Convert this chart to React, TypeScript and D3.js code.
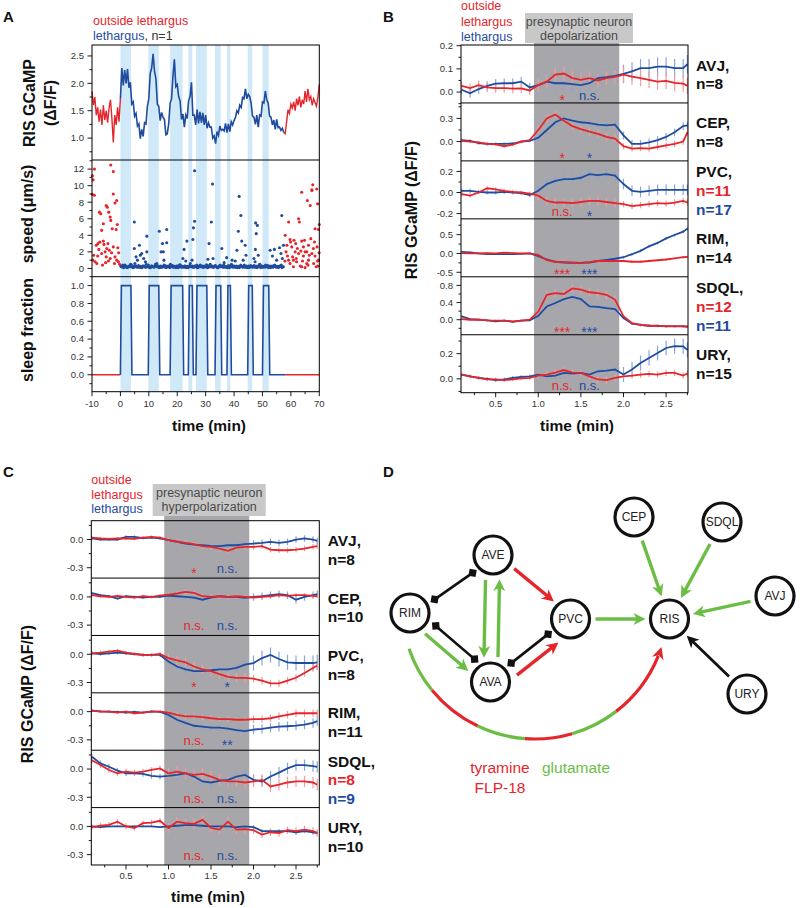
import React, { useEffect, useRef } from "react";
import * as d3 from "d3";

// colours
const RED = "#e4262c";
const BLUE = "#1f4c9d";
const RED_ERR = "#f39c9c";
const BLUE_ERR = "#88a5db";
const GREEN = "#6cbd45";
const SLEEP_BAND = "#d0e9f9";
const STIM_SHADE = "#a7a7ab";
const STIM_HEAD = "#c8c8c8";
const FONT = "'Liberation Sans', Arial, Helvetica, sans-serif";

// ---------------- panel A data ----------------
const aSleepBouts = [
  [0, 3.7], [9.8, 13.5], [17.5, 21.9], [23.9, 25.3], [26.6, 30.4],
  [33.3, 35.3], [37.5, 38.7], [44.8, 46.4], [50, 52.2],
];
const aStep = 0.5; // sampling of the GCaMP trace (min)
const aRedPreStart = -10;
const aRedPre = [1.85, 1.6, 1.75, 1.42, 1.56, 1.3, 1.52, 1.24, 1.6, 1.33, 1.5, 1.28, 1.55, 1.7, 1.36, 0.92, 1.42, 1.24, 1.56, 1.3, 1.72];
const aBlueStart = 0;
const aBlue = [
  1.72, 2.28, 1.96, 2.24, 2.0, 2.26, 1.92, 2.02, 1.62, 1.66,
  1.4, 1.45, 1.22, 1.26, 0.99, 1.16, 1.03, 1.28, 1.26, 1.58,
  1.72, 2.18, 2.28, 2.54, 2.22, 2.08, 1.62, 1.58, 1.32, 1.47,
  1.38, 1.34, 1.06, 1.08, 1.26, 1.64, 1.72, 2.14, 2.44, 1.94,
  1.98, 1.76, 1.68, 1.34, 1.44, 1.2, 1.42, 1.36, 1.68, 1.76,
  2.02, 1.42, 1.42, 1.24, 1.52, 1.27, 1.48, 1.28, 1.46, 1.24,
  1.42, 1.18, 1.28, 1.2, 1.2, 1.0, 1.04, 0.9, 1.12, 1.05,
  1.22, 1.14, 1.16, 1.13, 1.27, 1.1, 1.26, 1.12, 1.3, 1.24,
  1.32, 1.38, 1.5, 1.46, 1.6, 1.56, 1.74, 1.72, 1.9, 1.72,
  1.8, 1.76, 1.64, 1.4, 1.38, 1.25, 1.42, 1.2, 1.42, 1.4,
  1.66, 1.64, 1.86, 1.7, 1.64, 1.4, 1.38, 1.24, 1.33, 1.16,
  1.34, 1.19, 1.2, 1.14, 1.18, 1.1,
];
const aRedPostStart = 57.5;
const aRedPost = [1.1, 1.08, 1.3, 1.52, 1.45, 1.62, 1.55, 1.66, 1.5, 1.72, 1.6, 1.76, 1.56, 1.7, 1.62, 1.86, 1.66, 1.9, 1.7, 1.76, 1.6, 1.72, 1.65, 1.58, 1.75, 1.98];

const aSpeedRedPre = [
  [-9.86, 11.2], [-9.15, 12.0], [-9.6, 10.7], [-9.86, 8.97], [-9.15, 8.85], [-9.7, 1.0], [-8.9, 0.8], [-8.3, 0.6],
  [-7.4, 6.8], [-6.9, 6.6], [-7.2, 3.2], [-7.6, 2.3], [-6.6, 4.6], [-6.0, 5.4], [-6.6, 1.8], [-5.8, 2.9],
  [-5.0, 7.6], [-4.6, 7.4], [-4.8, 2.4], [-5.0, 1.4], [-4.1, 6.8], [-3.6, 6.2], [-3.4, 5.8], [-4.2, 0.9],
  [-3.1, 1.9], [-2.5, 9.0], [-1.9, 7.9], [-1.3, 8.2], [-1.5, 4.7], [-1.1, 5.3], [-1.9, 1.4], [-2.5, 2.6],
  [-0.6, 1.9], [-0.7, 0.8], [-1.3, 1.0], [-3.6, 1.2], [-6.0, 3.3], [-3.4, 12.5], [-2.5, 11.7], [-8.5, 2.8],
  [-7.9, 3.0], [-5.4, 2.0], [-4.4, 3.0], [-2.9, 4.8], [-0.3, 0.5], [-8.0, 1.5], [-6.3, 0.4], [-5.2, 0.7],
  [-3.9, 2.2], [-2.1, 0.6], [-0.9, 2.5], [-9.4, 1.6],
];
const aSpeedRedPost = [
  [58, 4.0], [59.2, 5.6], [59.7, 3.5], [59.9, 3.2], [58.3, 2.0], [59.2, 1.0], [60.3, 2.6], [60.9, 1.0],
  [61.5, 2.0], [61.7, 3.0], [62, 0.8], [62.7, 6.0], [63, 5.6], [63.8, 9.2], [63.8, 3.3], [63.8, 0.2],
  [64.4, 2.6], [65, 2.0], [65, 0.1], [65.6, 0.6], [65.8, 8.2], [66.2, 2.8], [66.2, 1.0], [66.8, 7.6],
  [67, 3.6], [67.4, 9.5], [67.7, 10.1], [68, 0.6], [68.3, 3.2], [68.5, 4.8], [69.1, 9.6], [69.4, 7.8],
  [69.7, 4.7], [69.7, 1.0], [69.95, 1.9], [69.5, 0.3], [70, 5.3], [60.9, 0.2], [63.3, 0.3], [59.7, 0.6],
  [58.8, 1.5], [62.7, 1.8], [64.4, 1.5], [65.6, 2.0], [67.4, 1.8], [68.5, 1.5], [68.9, 0.2], [67.4, 9.4],
  [58.6, 2.8], [61.1, 3.4], [62.3, 2.4], [64.1, 0.9], [66.5, 1.6], [69.2, 2.6], [60.6, 1.4], [63.5, 2.1],
  [57.9, 0.9], [61.9, 1.2], [64.8, 3.4], [66, 0.4], [67.9, 2.4], [69.4, 0.9],
];
const aSpeedBlueHigh = [
  [4.9, 5.6], [4.9, 2.4], [6.7, 2.8], [7.5, 1.8], [9.3, 3.9], [9.3, 2.0], [13.7, 4.5], [14.8, 3.0],
  [16.3, 4.7], [16.3, 3.1], [15.1, 2.0], [22, 1.2], [22.4, 2.3], [23.4, 3.3], [26.1, 5.7], [25.7, 4.9],
  [25.5, 3.5], [25.2, 1.0], [31.2, 3.0], [32, 5.6], [32.4, 10.2], [26.1, 11.8], [32.6, 1.2], [35.7, 2.4],
  [37.4, 1.3], [40.4, 0.9], [41, 2.2], [41.8, 8.7], [41.5, 4.5], [42.4, 6.4], [42.7, 3.3], [43.9, 2.8],
  [44.2, 1.6], [47.4, 0.8], [47.6, 5.5], [48.2, 5.2], [47.8, 4.2], [47.5, 2.3], [48.5, 1.6], [52.7, 2.2],
  [54.2, 2.3], [56, 2.5], [56.8, 6.4], [57.4, 2.8], [8.2, 1.2], [8.8, 0.8], [15.3, 1.0], [23, 0.9],
  [30.8, 1.1], [36.5, 0.7], [39.3, 1.0], [43.2, 1.0], [47, 1.2], [53.5, 1.5], [55, 1.0], [56.5, 1.8],
  [57, 1.2], [5.5, 1.4], [6, 1.0], [7, 1.6], [14.3, 2.0], [12.8, 0.6],
];
const aSpeedBaseStartA = 0.1;
const aSpeedBaseA = [
  0.3, 0.2, 0.1, 0.4, 0.2, 0.15, 0.3, 0.5, 0.2, 0.1, 0.6, 0.3, 0.2, 0.15, 0.25, 0.1, 0.3, 0.2, 0.5, 0.2,
  0.15, 0.1, 0.3, 0.2, 0.25, 0.4, 0.2, 0.1, 0.3, 0.15, 0.2, 0.35, 0.1, 0.2, 0.3, 0.5, 0.2, 0.15, 0.25, 0.1,
  0.3, 0.2, 0.4, 0.15, 0.2, 0.3, 0.1, 0.25, 0.2, 0.6, 0.2, 0.15, 0.3, 0.2, 0.1, 0.25, 0.4, 0.2, 0.15, 0.3,
  0.2, 0.1, 0.3, 0.5, 0.2, 0.15, 0.25, 0.3, 0.1, 0.2, 0.4, 0.25, 0.15, 0.3, 0.2, 0.1, 0.35, 0.2, 0.5, 0.15,
  0.3, 0.2, 0.1, 0.25, 0.2, 0.3, 0.15, 0.4, 0.2, 0.1, 0.3, 0.2, 0.25, 0.15, 0.35, 0.2, 0.1, 0.3, 0.5, 0.2,
  0.15, 0.25, 0.4, 0.2, 0.1, 0.3, 0.2, 0.15, 0.35, 0.25, 0.2, 0.1, 0.3, 0.4, 0.2,
];
const aSpeedBaseStartB = 0.35;
const aSpeedBaseB = [
  0.2, 0.4, 0.15, 0.3, 0.1, 0.25, 0.2, 0.45, 0.1, 0.3, 0.2, 0.15, 0.35, 0.2, 0.1, 0.3, 0.25, 0.15, 0.2, 0.4,
  0.1, 0.3, 0.2, 0.15, 0.5, 0.2, 0.3, 0.1, 0.25, 0.2, 0.4, 0.15, 0.3, 0.2, 0.1, 0.25, 0.35, 0.2, 0.15, 0.3,
  0.1, 0.45, 0.2, 0.25, 0.15, 0.3, 0.2, 0.1, 0.35, 0.2, 0.3, 0.15, 0.2, 0.4, 0.1, 0.25, 0.2, 0.3, 0.15, 0.2,
  0.45, 0.1, 0.25, 0.2, 0.3, 0.15, 0.35, 0.2, 0.1, 0.3, 0.2, 0.25, 0.4, 0.15, 0.2, 0.3, 0.1, 0.2, 0.35, 0.25,
  0.15, 0.3, 0.2, 0.1, 0.4, 0.2, 0.25, 0.15, 0.3, 0.2, 0.1, 0.35, 0.2, 0.3, 0.15, 0.25, 0.2, 0.45, 0.1, 0.3,
  0.2, 0.15, 0.25, 0.35, 0.2, 0.1, 0.3, 0.2, 0.4, 0.15, 0.25, 0.2, 0.3, 0.1, 0.2,
];
const aLethargusEnd = 58;

const aXTicks = [-10, 0, 10, 20, 30, 40, 50, 60, 70];
const aXMinor = [-5, 5, 15, 25, 35, 45, 55, 65];
const aFTicks = [1.0, 1.5, 2.0, 2.5];
const aFMinor = [0.75, 1.25, 1.75, 2.25];
const aSTicks = [0, 2, 4, 6, 8, 10, 12];
const aSMinor = [-1, 1, 3, 5, 7, 9, 11, 13];
const aQTicks = [0.0, 0.2, 0.4, 0.6, 0.8, 1.0];
const aQMinor = [-0.1, 0.1, 0.3, 0.5, 0.7, 0.9];

// ---------------- panels B and C data ----------------
const stimWindow = [0.95, 1.95];
const timeBC = [0.1, 0.2, 0.3, 0.4, 0.5, 0.6, 0.7, 0.8, 0.9, 1.0, 1.1, 1.2, 1.3, 1.4, 1.5, 1.6, 1.7, 1.8, 1.9, 2.0, 2.1, 2.2, 2.3, 2.4, 2.5, 2.6, 2.7, 2.75];
const bcXTicks = [0.5, 1.0, 1.5, 2.0, 2.5];
const bcXMinor = [0.25, 0.75, 1.25, 1.75, 2.25, 2.75];

// B: depolarization
const bAvjRed = [0.027, 0.017, 0.03, 0.02, 0.017, 0.017, 0.015, 0.016, 0.007, 0.03, 0.045, 0.075, 0.08, 0.06, 0.053, 0.06, 0.05, 0.06, 0.065, 0.075, 0.067, 0.06, 0.053, 0.045, 0.048, 0.04, 0.036, 0.027];
const bAvjBlue = [0.01, -0.005, 0.013, 0.027, 0.036, 0.038, 0.038, 0.045, 0.02, 0.03, 0.045, 0.038, 0.038, 0.034, 0.03, 0.038, 0.06, 0.064, 0.07, 0.078, 0.089, 0.103, 0.103, 0.11, 0.11, 0.103, 0.103, 0.12];
const bCepRed = [0.01, 0.0, -0.01, -0.03, -0.035, -0.06, -0.04, 0.0, 0.02, 0.15, 0.3, 0.35, 0.27, 0.2, 0.16, 0.13, 0.1, 0.06, 0.04, -0.06, -0.09, -0.085, -0.09, -0.07, -0.05, -0.03, 0.0, 0.12];
const bCepBlue = [0.02, 0.01, -0.02, -0.03, -0.03, -0.03, -0.025, 0.0, 0.01, 0.05, 0.15, 0.25, 0.3, 0.27, 0.25, 0.24, 0.22, 0.21, 0.22, 0.08, -0.03, -0.03, -0.01, 0.02, 0.06, 0.12, 0.2, 0.21];
const bPvcRed = [-0.016, -0.03, 0.0, 0.04, 0.03, 0.016, 0.006, 0.0, -0.01, -0.03, -0.08, -0.095, -0.095, -0.1, -0.09, -0.08, -0.08, -0.09, -0.1, -0.11, -0.13, -0.12, -0.11, -0.1, -0.105, -0.095, -0.08, -0.095];
const bPvcBlue = [0.016, 0.016, 0.006, 0.0, 0.0, 0.006, 0.0, -0.006, -0.025, 0.016, 0.08, 0.11, 0.127, 0.127, 0.14, 0.175, 0.165, 0.175, 0.16, 0.08, 0.016, 0.006, 0.016, 0.025, 0.025, 0.025, 0.025, 0.025];
const bRimRed = [0.01, 0.0, 0.0, 0.01, 0.0, 0.02, 0.01, 0.0, 0.0, -0.04, -0.18, -0.22, -0.23, -0.24, -0.25, -0.23, -0.2, -0.2, -0.2, -0.2, -0.22, -0.22, -0.2, -0.18, -0.16, -0.13, -0.1, -0.09];
const bRimBlue = [0.045, 0.03, 0.0, -0.02, -0.02, -0.02, -0.02, -0.01, 0.0, -0.07, -0.16, -0.22, -0.24, -0.25, -0.25, -0.24, -0.2, -0.17, -0.14, -0.1, -0.02, 0.07, 0.19, 0.28, 0.4, 0.49, 0.58, 0.66];
const bSdqlRed = [0.015, 0.0, 0.0, -0.015, -0.02, -0.02, -0.04, -0.02, 0.0, 0.19, 0.58, 0.62, 0.6, 0.73, 0.7, 0.64, 0.62, 0.58, 0.47, 0.08, -0.08, -0.12, -0.14, -0.15, -0.15, -0.15, -0.15, -0.17];
const bSdqlBlue = [0.08, 0.015, 0.0, -0.015, -0.04, -0.02, -0.05, -0.02, -0.015, 0.09, 0.31, 0.39, 0.48, 0.53, 0.48, 0.31, 0.3, 0.27, 0.25, 0.04, -0.09, -0.12, -0.14, -0.14, -0.155, -0.155, -0.155, -0.155];
const bUryRed = [0.034, 0.02, 0.008, -0.005, -0.005, -0.01, -0.005, 0.003, 0.008, 0.026, 0.034, 0.05, 0.07, 0.05, 0.047, 0.02, -0.005, -0.01, 0.008, 0.02, 0.026, 0.034, 0.04, 0.034, 0.047, 0.047, 0.026, 0.042];
const bUryBlue = [0.034, 0.02, 0.008, 0.0, -0.01, -0.005, 0.008, 0.016, 0.02, 0.034, 0.02, 0.026, 0.047, 0.042, 0.047, 0.034, 0.06, 0.066, 0.074, 0.034, 0.074, 0.126, 0.166, 0.205, 0.245, 0.26, 0.258, 0.23];
// SEM before / during / after stimulation
const bErrRed = [[0.02, 0.03, 0.035], [0.02, 0.05, 0.04], [0.02, 0.04, 0.03], [0.02, 0.03, 0.03], [0.02, 0.1, 0.03], [0.015, 0.03, 0.025]];
const bErrBlue = [[0.02, 0.035, 0.04], [0.02, 0.05, 0.05], [0.02, 0.05, 0.05], [0.02, 0.03, 0.04], [0.02, 0.08, 0.03], [0.015, 0.03, 0.06]];
const bNames = ["AVJ", "CEP", "PVC", "RIM", "SDQL", "URY"];
const bCounts = [["8"], ["8"], ["11", "17"], ["14"], ["12", "11"], ["15"]];
const bSig = [["*", "n.s."], ["*", "*"], ["n.s.", "*"], ["***", "***"], ["***", "***"], ["n.s.", "n.s."]];
const bDomains = [[-0.047, 0.203], [-0.25, 0.5], [-0.25, 0.3], [-0.62, 0.92], [-0.35, 1.0], [-0.11, 0.35]];
const bYTicks = [[0.0, 0.1, 0.2], [0.0, 0.3], [-0.2, 0.0, 0.2], [-0.5, 0.0, 0.5], [0.0, 0.4, 0.8], [0.0, 0.2]];
const bYMinor = [[-0.05, 0.05, 0.15], [-0.15, 0.15, 0.45], [-0.1, 0.1], [-0.25, 0.25, 0.75], [-0.2, 0.2, 0.6], [-0.1, 0.1, 0.3]];

// C: hyperpolarization
const cAvjRed = [0.021, 0.011, 0.007, 0.011, 0.011, 0.007, 0.021, 0.029, 0.021, -0.007, -0.021, -0.036, -0.05, -0.071, -0.079, -0.096, -0.121, -0.086, -0.079, -0.079, -0.071, -0.107, -0.114, -0.114, -0.107, -0.096, -0.079, -0.071];
const cAvjBlue = [0.011, 0.0, 0.0, 0.0, 0.029, 0.029, 0.014, 0.021, 0.011, -0.007, -0.025, -0.043, -0.054, -0.061, -0.068, -0.071, -0.061, -0.061, -0.05, -0.043, -0.036, -0.025, -0.036, -0.025, 0.0, 0.011, 0.0, -0.014];
const cCepRed = [0.018, 0.007, 0.0, 0.011, 0.0, -0.007, 0.007, 0.0, 0.014, 0.025, 0.036, 0.054, 0.043, 0.007, 0.0, 0.007, 0.0, 0.007, 0.0, -0.007, 0.0, 0.007, 0.018, 0.011, 0.018, 0.018, 0.011, 0.007];
const cCepBlue = [0.04, 0.018, 0.007, -0.018, 0.007, 0.0, -0.007, 0.0, 0.0, 0.014, 0.007, 0.0, -0.007, -0.03, -0.007, 0.007, 0.0, 0.0, -0.011, 0.0, 0.007, 0.018, 0.029, 0.018, -0.03, 0.0, 0.018, 0.029];
const cPvcRed = [0.01, 0.017, 0.028, 0.038, 0.017, 0.003, -0.007, -0.007, 0.003, -0.04, -0.065, -0.086, -0.13, -0.16, -0.18, -0.21, -0.24, -0.25, -0.25, -0.26, -0.28, -0.31, -0.31, -0.28, -0.25, -0.2, -0.145, -0.12];
const cPvcBlue = [0.01, 0.003, 0.01, 0.017, 0.01, 0.003, -0.007, -0.007, -0.007, -0.076, -0.13, -0.16, -0.18, -0.18, -0.17, -0.16, -0.16, -0.145, -0.11, -0.093, -0.04, -0.007, -0.05, -0.086, -0.093, -0.093, -0.093, -0.086];
const cRimRed = [0.01, 0.0, 0.0, -0.01, 0.0, -0.017, -0.01, 0.0, 0.0, -0.01, -0.034, -0.05, -0.05, -0.058, -0.07, -0.08, -0.08, -0.086, -0.086, -0.08, -0.08, -0.07, -0.05, -0.034, -0.017, -0.017, -0.017, -0.017];
const cRimBlue = [0.01, 0.003, 0.0, -0.003, -0.01, -0.003, -0.01, 0.003, -0.003, -0.034, -0.086, -0.12, -0.15, -0.16, -0.17, -0.17, -0.18, -0.197, -0.207, -0.19, -0.183, -0.17, -0.16, -0.155, -0.148, -0.138, -0.12, -0.1];
const cSdqlRed = [0.094, 0.042, -0.01, -0.045, -0.028, -0.038, -0.028, -0.01, 0.007, -0.045, -0.028, -0.045, -0.063, -0.052, -0.08, -0.115, -0.132, -0.132, -0.143, -0.132, -0.115, -0.185, -0.167, -0.143, -0.132, -0.132, -0.143, -0.167];
const cSdqlBlue = [0.13, 0.06, 0.024, -0.017, -0.045, -0.045, -0.052, -0.073, -0.08, -0.073, -0.063, -0.045, -0.08, -0.132, -0.143, -0.125, -0.115, -0.08, -0.063, -0.115, -0.132, -0.08, -0.038, 0.007, 0.042, 0.042, 0.031, 0.024];
const cUryRed = [-0.007, 0.007, 0.017, 0.05, 0.0, -0.017, 0.034, 0.04, 0.06, -0.017, 0.05, 0.034, 0.028, 0.07, -0.017, -0.034, 0.05, -0.034, -0.028, -0.04, -0.086, -0.062, -0.07, -0.04, -0.05, -0.034, -0.05, -0.07];
const cUryBlue = [0.0, -0.007, 0.0, 0.0, 0.0, 0.0, 0.0, 0.0, -0.007, 0.0, 0.007, 0.014, 0.014, 0.007, 0.0, 0.0, 0.0, -0.007, 0.0, -0.007, -0.05, -0.05, -0.05, -0.05, -0.062, -0.05, -0.062, -0.07];
const cErrRed = [[0.015, 0.03, 0.03], [0.015, 0.03, 0.02], [0.02, 0.05, 0.04], [0.015, 0.03, 0.04], [0.03, 0.06, 0.06], [0.03, 0.05, 0.04]];
const cErrBlue = [[0.015, 0.03, 0.035], [0.015, 0.03, 0.04], [0.02, 0.05, 0.08], [0.015, 0.03, 0.05], [0.03, 0.06, 0.06], [0.01, 0.015, 0.02]];
const cNames = ["AVJ", "CEP", "PVC", "RIM", "SDQL", "URY"];
const cCounts = [["8"], ["10"], ["8"], ["11"], ["8", "9"], ["10"]];
const cSig = [["*", "n.s."], ["n.s.", "n.s."], ["*", "*"], ["n.s.", "**"], ["n.s.", "n.s."], ["n.s.", "n.s."]];
const cDomain = [-0.41, 0.2];
const cYTicks = [-0.3, 0.0];
const cYMinor = [-0.15, 0.15];

// ---------------- panel D data ----------------
const dNodes = ["CEP", "SDQL", "AVE", "AVJ", "RIM", "PVC", "RIS", "AVA", "URY"];
// [source, target, kind]  glu = glutamate, tyr = tyramine / FLP-18, gap = gap junction, syn = other synapse
const dEdges = [
  ["RIM", "AVE", "gap"], ["RIM", "AVA", "gap"], ["AVA", "PVC", "gap"],
  ["RIM", "AVA", "glu"], ["AVE", "AVA", "glu"], ["AVA", "AVE", "glu"],
  ["AVE", "PVC", "tyr"], ["AVA", "PVC", "tyr"],
  ["PVC", "RIS", "glu"], ["CEP", "RIS", "glu"], ["SDQL", "RIS", "glu"], ["AVJ", "RIS", "glu"],
  ["URY", "RIS", "syn"],
];
// RIM -> RIS long-range connection, alternating transmitter colours
const dArcKinds = ["glu", "tyr", "glu", "tyr", "glu", "tyr"];

// layout of the diagram (pixels)
const dPos: Record<string, [number, number]> = {
  CEP: [634, 517], SDQL: [722, 522], AVE: [493, 555], AVJ: [775, 596], RIM: [410, 613],
  PVC: [570.5, 619], RIS: [669.5, 619], AVA: [490.5, 682], URY: [747, 694],
};
const dOffset: Record<string, number> = {
  "RIM-AVE-gap": 3, "RIM-AVA-gap": -7, "RIM-AVA-glu": 6, "AVE-AVA-glu": 7, "AVA-AVE-glu": 7,
  "AVA-PVC-gap": -2, "AVA-PVC-tyr": 11, "AVE-PVC-tyr": -3,
};
const dArc = { cx: 535, cy: 606, r: 133, angles: [161.3, 140.7, 115.5, 94.4, 73.8, 52.4, 18] };

// ---------------- helpers ----------------
type Sel = any;

function yAxis(g: Sel, y: any, x0: number, major: number[], minor: number[], fmt: (v: number) => string) {
  g.append("g").selectAll("line").data(major).join("line")
    .attr("x1", x0 - 4.5).attr("x2", x0).attr("y1", (d: number) => y(d)).attr("y2", (d: number) => y(d))
    .attr("stroke", "#000").attr("stroke-width", 0.9);
  g.append("g").selectAll("line").data(minor).join("line")
    .attr("x1", x0 - 2.5).attr("x2", x0).attr("y1", (d: number) => y(d)).attr("y2", (d: number) => y(d))
    .attr("stroke", "#000").attr("stroke-width", 0.9);
  g.append("g").selectAll("text").data(major).join("text")
    .attr("x", x0 - 8).attr("y", (d: number) => y(d) + 3.3)
    .attr("text-anchor", "end").attr("font-size", 9.5).attr("fill", "#333")
    .text((d: number) => fmt(d));
}

function xAxis(g: Sel, x: any, y0: number, major: number[], minor: number[], fmt: (v: number) => string, labelY: number) {
  g.append("g").selectAll("line").data(major).join("line")
    .attr("x1", (d: number) => x(d)).attr("x2", (d: number) => x(d)).attr("y1", y0).attr("y2", y0 + 4.5)
    .attr("stroke", "#000").attr("stroke-width", 0.9);
  g.append("g").selectAll("line").data(minor).join("line")
    .attr("x1", (d: number) => x(d)).attr("x2", (d: number) => x(d)).attr("y1", y0).attr("y2", y0 + 2.5)
    .attr("stroke", "#000").attr("stroke-width", 0.9);
  g.append("g").selectAll("text").data(major).join("text")
    .attr("x", (d: number) => x(d)).attr("y", labelY)
    .attr("text-anchor", "middle").attr("font-size", 9.5).attr("fill", "#333")
    .text((d: number) => fmt(d));
}

function vLabel(g: Sel, x: number, y: number, text: string, size = 16) {
  g.append("text").attr("transform", `translate(${x},${y}) rotate(-90)`)
    .attr("text-anchor", "middle").attr("font-size", size).attr("font-weight", "bold").attr("fill", "#111")
    .text(text);
}

function drawPanelA(svg: Sel) {
  const x = d3.scaleLinear().domain([-10, 70]).range([92, 319.3]);
  const yF = d3.scaleLinear().domain([0.6, 2.7]).range([160, 45]);
  const yS = d3.scaleLinear().domain([-1, 13.1]).range([276.7, 160]);
  const yQ = d3.scaleLinear().domain([-0.19, 1.1]).range([391.7, 276.7]);
  const g = svg.append("g");

  g.selectAll("rect.band").data(aSleepBouts).join("rect").attr("class", "band")
    .attr("x", (d: number[]) => x(d[0])).attr("width", (d: number[]) => x(d[1]) - x(d[0]))
    .attr("y", 45).attr("height", 391.7 - 45).attr("fill", SLEEP_BAND);

  const pts = (start: number, vals: number[]) => vals.map((v, i) => [start + i * aStep, v] as [number, number]);
  const lineF = d3.line<[number, number]>().x((d) => x(d[0])).y((d) => yF(d[1]));
  g.append("path").attr("d", lineF(pts(aRedPreStart, aRedPre))).attr("fill", "none").attr("stroke", RED).attr("stroke-width", 1.4);
  g.append("path").attr("d", lineF(pts(aRedPostStart, aRedPost))).attr("fill", "none").attr("stroke", RED).attr("stroke-width", 1.4);
  g.append("path").attr("d", lineF(pts(aBlueStart, aBlue))).attr("fill", "none").attr("stroke", BLUE).attr("stroke-width", 1.6);

  // speed scatter
  const basePts = [
    ...aSpeedBaseA.map((v, i) => [aSpeedBaseStartA + i * aStep, v]),
    ...aSpeedBaseB.map((v, i) => [aSpeedBaseStartB + i * aStep, v]),
  ];
  const dots = (data: number[][], color: string) =>
    g.append("g").selectAll("circle").data(data).join("circle")
      .attr("cx", (d: number[]) => x(d[0])).attr("cy", (d: number[]) => yS(d[1]))
      .attr("r", 1.55).attr("fill", color);
  dots([...basePts, ...aSpeedBlueHigh], BLUE);
  dots(aSpeedRedPre, RED);
  dots(aSpeedRedPost, RED);

  // sleep fraction
  const sleepPts: [number, number][] = [[0, 0]];
  aSleepBouts.forEach(([s, e]) => {
    sleepPts.push([s, 0], [s + 0.35, 1], [e, 1], [e + 0.35, 0]);
  });
  sleepPts.push([aLethargusEnd, 0]);
  const lineQ = d3.line<[number, number]>().x((d) => x(d[0])).y((d) => yQ(d[1]));
  g.append("path").attr("d", lineQ([[-10, 0], [0, 0]])).attr("stroke", RED).attr("stroke-width", 1.5).attr("fill", "none");
  g.append("path").attr("d", lineQ([[aLethargusEnd, 0], [70, 0]])).attr("stroke", RED).attr("stroke-width", 1.5).attr("fill", "none");
  g.append("path").attr("d", lineQ(sleepPts)).attr("stroke", BLUE).attr("stroke-width", 1.6).attr("fill", "none");

  // frame
  g.append("rect").attr("x", 92).attr("y", 45).attr("width", 227.3).attr("height", 346.7)
    .attr("fill", "none").attr("stroke", "#000").attr("stroke-width", 1);
  [160, 276.7].forEach((yy) =>
    g.append("line").attr("x1", 92).attr("x2", 319.3).attr("y1", yy).attr("y2", yy).attr("stroke", "#000").attr("stroke-width", 1));

  yAxis(g, yF, 92, aFTicks, aFMinor, (v) => v.toFixed(1));
  yAxis(g, yS, 92, aSTicks, aSMinor, (v) => String(v));
  yAxis(g, yQ, 92, aQTicks, aQMinor, (v) => v.toFixed(1));
  xAxis(g, x, 391.7, aXTicks, aXMinor, (v) => String(v), 407);

  g.append("text").attr("x", 209).attr("y", 431).attr("text-anchor", "middle")
    .attr("font-size", 15.5).attr("font-weight", "bold").attr("fill", "#111").text("time (min)");
  vLabel(g, 35, 103, "RIS GCaMP");
  vLabel(g, 55.5, 103, "(\u0394F/F)");
  vLabel(g, 33, 214, "speed (\u03bcm/s)");
  vLabel(g, 33, 330, "sleep fraction");

  g.append("text").attr("x", 93).attr("y", 25).attr("font-size", 12.5).attr("fill", RED).text("outside lethargus");
  const t2 = g.append("text").attr("x", 93).attr("y", 39.5).attr("font-size", 12.5);
  t2.append("tspan").attr("fill", BLUE).text("lethargus");
  t2.append("tspan").attr("fill", "#333").text(", n=1");
}

interface StackOpt {
  id: string; x0: number; x1: number; top: number; ph: number; tDomain: number[];
  shadeTop: number; labelX: number; sigDy: number;
  names: string[]; counts: string[][]; sigs: string[][];
  series: { red: number[]; blue: number[]; redErr: number[]; blueErr: number[] }[];
  domains: number[][]; yTicks: number[][]; yMinor: number[][];
  xLabelY: number; titleX: number; titleY: number;
  header: { x: number; y: number; w: number; h: number; lines: string[]; b: number[] };
  legendX: number; legendY: number[]; yTitleX: number; yTitleY: number;
  sigT: number[];
}

function drawStack(svg: Sel, o: StackOpt) {
  const x = d3.scaleLinear().domain(o.tDomain).range([o.x0, o.x1]);
  const n = o.names.length;
  const bottom = o.top + o.ph * n;
  const g = svg.append("g");

  // stimulation period
  g.append("rect").attr("x", x(stimWindow[0])).attr("y", o.shadeTop)
    .attr("width", x(stimWindow[1]) - x(stimWindow[0])).attr("height", bottom - o.shadeTop).attr("fill", STIM_SHADE);
  g.append("rect").attr("x", o.header.x).attr("y", o.header.y).attr("width", o.header.w).attr("height", o.header.h).attr("fill", STIM_HEAD);
  o.header.lines.forEach((s, i) =>
    g.append("text").attr("x", o.header.x + o.header.w / 2).attr("y", o.header.b[i]).attr("text-anchor", "middle")
      .attr("font-size", 12.5).attr("fill", "#4a4a4a").text(s));

  const errAt = (t: number, e: number[]) => (t < stimWindow[0] ? e[0] : t <= stimWindow[1] ? e[1] : e[2]);

  for (let i = 0; i < n; i++) {
    const p0 = o.top + i * o.ph;
    const p1 = p0 + o.ph;
    const dom = o.domains[i];
    const y = d3.scaleLinear().domain(dom).range([p1, p0]);
    const clipId = `${o.id}-clip-${i}`;
    g.append("clipPath").attr("id", clipId).append("rect")
      .attr("x", o.x0).attr("y", p0).attr("width", o.x1 - o.x0).attr("height", o.ph);
    const pg = g.append("g").attr("clip-path", `url(#${clipId})`);
    const s = o.series[i];
    const drawErr = (vals: number[], err: number[], color: string) =>
      pg.append("g").selectAll("line").data(vals).join("line")
        .attr("x1", (_: number, j: number) => x(timeBC[j])).attr("x2", (_: number, j: number) => x(timeBC[j]))
        .attr("y1", (d: number, j: number) => y(d - errAt(timeBC[j], err)))
        .attr("y2", (d: number, j: number) => y(d + errAt(timeBC[j], err)))
        .attr("stroke", color).attr("stroke-width", 1.2);
    drawErr(s.blue, s.blueErr, BLUE_ERR);
    drawErr(s.red, s.redErr, RED_ERR);
    const line = d3.line<number>().x((_, j) => x(timeBC[j])).y((d) => y(d));
    pg.append("path").attr("d", line(s.blue)).attr("fill", "none").attr("stroke", BLUE).attr("stroke-width", 1.8);
    pg.append("path").attr("d", line(s.red)).attr("fill", "none").attr("stroke", RED).attr("stroke-width", 1.8);

    yAxis(g, y, o.x0, o.yTicks[i], o.yMinor[i], (v) => v.toFixed(1));

    // significance
    const sy = p1 + o.sigDy;
    o.sigs[i].forEach((txt, k) => {
      const star = txt.indexOf("*") >= 0;
      g.append("text").attr("x", x(o.sigT[k])).attr("y", star ? sy + 4.5 : sy).attr("text-anchor", "middle")
        .attr("font-size", star ? 14 : 13).attr("fill", k === 0 ? RED : BLUE).text(txt);
    });

    // neuron name and n
    const lines: [string, string][] = [[o.names[i] + ",", "#111"]];
    if (o.counts[i].length === 1) lines.push(["n=" + o.counts[i][0], "#111"]);
    else { lines.push(["n=" + o.counts[i][0], RED]); lines.push(["n=" + o.counts[i][1], BLUE]); }
    const first = lines.length === 2 ? 25.5 : 16.5;
    lines.forEach(([txt, col], k) =>
      g.append("text").attr("x", o.labelX).attr("y", p0 + first + k * 18.6)
        .attr("font-size", 15.5).attr("font-weight", "bold").attr("fill", col).text(txt));
  }

  g.append("rect").attr("x", o.x0).attr("y", o.top).attr("width", o.x1 - o.x0).attr("height", bottom - o.top)
    .attr("fill", "none").attr("stroke", "#000").attr("stroke-width", 1);
  for (let i = 1; i < n; i++) {
    const yy = o.top + i * o.ph;
    g.append("line").attr("x1", o.x0).attr("x2", o.x1).attr("y1", yy).attr("y2", yy).attr("stroke", "#000").attr("stroke-width", 1);
  }
  xAxis(g, x, bottom, bcXTicks, bcXMinor, (v) => v.toFixed(1), o.xLabelY);
  g.append("text").attr("x", o.titleX).attr("y", o.titleY).attr("text-anchor", "middle")
    .attr("font-size", 15.5).attr("font-weight", "bold").attr("fill", "#111").text("time (min)");
  vLabel(g, o.yTitleX, o.yTitleY, "RIS GCaMP (\u0394F/F)");

  const legend: [string, string][] = [["outside", RED], ["lethargus", RED], ["lethargus", BLUE]];
  legend.forEach(([txt, col], k) =>
    g.append("text").attr("x", o.legendX).attr("y", o.legendY[k]).attr("font-size", 12.5).attr("fill", col).text(txt));
}

function drawPanelD(svg: Sel) {
  const g = svg.append("g");
  const R = 19;
  const colorOf: Record<string, string> = { glu: GREEN, tyr: RED, gap: "#111", syn: "#111" };

  const arrowHead = (ex: number, ey: number, ux: number, uy: number, col: string) => {
    const nx = -uy, ny = ux, L = 12, W = 6;
    const p = [
      [ex, ey],
      [ex - ux * L + nx * W, ey - uy * L + ny * W],
      [ex - ux * L * 0.72, ey - uy * L * 0.72],
      [ex - ux * L - nx * W, ey - uy * L - ny * W],
    ];
    g.append("path").attr("d", d3.line()(p as [number, number][]) + "Z").attr("fill", col);
  };

  // RIM -> RIS arc
  const rad = (a: number) => (a * Math.PI) / 180;
  dArcKinds.forEach((kind, i) => {
    const a0 = dArc.angles[i], a1 = i === dArcKinds.length - 1 ? dArc.angles[i + 1] + 4 : dArc.angles[i + 1];
    const p = d3.path();
    p.moveTo(dArc.cx + dArc.r * Math.cos(rad(a0)), dArc.cy + dArc.r * Math.sin(rad(a0)));
    p.arc(dArc.cx, dArc.cy, dArc.r, rad(a0), rad(a1), true);
    g.append("path").attr("d", p.toString()).attr("fill", "none").attr("stroke", colorOf[kind]).attr("stroke-width", 3.2);
  });
  const aEnd = rad(dArc.angles[dArc.angles.length - 1]);
  arrowHead(dArc.cx + dArc.r * Math.cos(aEnd), dArc.cy + dArc.r * Math.sin(aEnd), Math.sin(aEnd), -Math.cos(aEnd), colorOf[dArcKinds[dArcKinds.length - 1]]);

  dEdges.forEach(([a, b, kind]) => {
    const [ax, ay] = dPos[a];
    const [bx, by] = dPos[b];
    const L = Math.hypot(bx - ax, by - ay);
    const ux = (bx - ax) / L, uy = (by - ay) / L, nx = -uy, ny = ux;
    const off = dOffset[`${a}-${b}-${kind}`] || 0;
    const col = colorOf[kind];
    if (kind === "gap") {
      const g0 = R + 9, g1 = R + 8;
      const sx = ax + ux * g0 + nx * off, sy = ay + uy * g0 + ny * off;
      const ex = bx - ux * g1 + nx * off, ey = by - uy * g1 + ny * off;
      g.append("line").attr("x1", sx).attr("y1", sy).attr("x2", ex).attr("y2", ey).attr("stroke", col).attr("stroke-width", 2.6);
      const ang = (Math.atan2(uy, ux) * 180) / Math.PI;
      [[sx, sy], [ex, ey]].forEach(([px, py]) =>
        g.append("rect").attr("x", -3.6).attr("y", -3.6).attr("width", 7.2).attr("height", 7.2).attr("fill", col)
          .attr("transform", `translate(${px},${py}) rotate(${ang + 45})`));
    } else {
      const g0 = R + 6, g1 = R + 5;
      const sx = ax + ux * g0 + nx * off, sy = ay + uy * g0 + ny * off;
      const ex = bx - ux * g1 + nx * off, ey = by - uy * g1 + ny * off;
      g.append("line").attr("x1", sx).attr("y1", sy).attr("x2", ex - ux * 8).attr("y2", ey - uy * 8)
        .attr("stroke", col).attr("stroke-width", kind === "syn" ? 2.8 : 3.4);
      arrowHead(ex, ey, ux, uy, col);
    }
  });

  g.append("g").selectAll("circle").data(dNodes).join("circle")
    .attr("cx", (d: string) => dPos[d][0]).attr("cy", (d: string) => dPos[d][1]).attr("r", R)
    .attr("fill", "#fff").attr("stroke", "#111").attr("stroke-width", 3.2);
  g.append("g").selectAll("text").data(dNodes).join("text")
    .attr("x", (d: string) => dPos[d][0]).attr("y", (d: string) => dPos[d][1] + 4.3)
    .attr("text-anchor", "middle").attr("font-size", 12).attr("fill", "#222").text((d: string) => d);

  g.append("text").attr("x", 500).attr("y", 773).attr("text-anchor", "middle").attr("font-size", 15.5).attr("fill", RED).text("tyramine");
  g.append("text").attr("x", 500).attr("y", 792.5).attr("text-anchor", "middle").attr("font-size", 15.5).attr("fill", RED).text("FLP-18");
  g.append("text").attr("x", 576).attr("y", 773).attr("text-anchor", "middle").attr("font-size", 15.5).attr("fill", GREEN).text("glutamate");
}

export default function App() {
  const ref = useRef<SVGSVGElement | null>(null);

  useEffect(() => {
    const svg = d3.select(ref.current);
    svg.selectAll("*").remove();
    svg.append("rect").attr("width", 800).attr("height", 908).attr("fill", "#fff");

    drawPanelA(svg);

    drawStack(svg, {
      id: "b", x0: 461, x1: 688, top: 45, ph: 57.95, tDomain: [0.093, 2.757],
      shadeTop: 43, labelX: 696, sigDy: -2.5,
      names: bNames, counts: bCounts, sigs: bSig,
      series: [
        { red: bAvjRed, blue: bAvjBlue, redErr: bErrRed[0], blueErr: bErrBlue[0] },
        { red: bCepRed, blue: bCepBlue, redErr: bErrRed[1], blueErr: bErrBlue[1] },
        { red: bPvcRed, blue: bPvcBlue, redErr: bErrRed[2], blueErr: bErrBlue[2] },
        { red: bRimRed, blue: bRimBlue, redErr: bErrRed[3], blueErr: bErrBlue[3] },
        { red: bSdqlRed, blue: bSdqlBlue, redErr: bErrRed[4], blueErr: bErrBlue[4] },
        { red: bUryRed, blue: bUryBlue, redErr: bErrRed[5], blueErr: bErrBlue[5] },
      ],
      domains: bDomains, yTicks: bYTicks, yMinor: bYMinor,
      xLabelY: 407, titleX: 577, titleY: 431,
      header: { x: 525, y: 13, w: 108, h: 30, lines: ["presynaptic neuron", "depolarization"], b: [25.5, 39.5] },
      legendX: 461, legendY: [10, 25.5, 40.5], yTitleX: 417, yTitleY: 210,
      sigT: [1.28, 1.6],
    });

    drawStack(svg, {
      id: "c", x0: 91.3, x1: 319.3, top: 520.7, ph: 57.38, tDomain: [0.092, 2.774],
      shadeTop: 516, labelX: 327.7, sigDy: -5,
      names: cNames, counts: cCounts, sigs: cSig,
      series: [
        { red: cAvjRed, blue: cAvjBlue, redErr: cErrRed[0], blueErr: cErrBlue[0] },
        { red: cCepRed, blue: cCepBlue, redErr: cErrRed[1], blueErr: cErrBlue[1] },
        { red: cPvcRed, blue: cPvcBlue, redErr: cErrRed[2], blueErr: cErrBlue[2] },
        { red: cRimRed, blue: cRimBlue, redErr: cErrRed[3], blueErr: cErrBlue[3] },
        { red: cSdqlRed, blue: cSdqlBlue, redErr: cErrRed[4], blueErr: cErrBlue[4] },
        { red: cUryRed, blue: cUryBlue, redErr: cErrRed[5], blueErr: cErrBlue[5] },
      ],
      domains: cNames.map(() => cDomain), yTicks: cNames.map(() => cYTicks), yMinor: cNames.map(() => cYMinor),
      xLabelY: 879, titleX: 208, titleY: 902,
      header: { x: 152.7, y: 484, w: 113, h: 32, lines: ["presynaptic neuron", "hyperpolarization"], b: [497, 511] },
      legendX: 91.3, legendY: [484, 498.5, 513], yTitleX: 33, yTitleY: 694,
      sigT: [1.3, 1.69],
    });

    drawPanelD(svg);

    // panel letters
    [["A", 3, 22], ["B", 383, 22], ["C", 3, 477], ["D", 383, 477]].forEach(([l, lx, ly]) =>
      svg.append("text").attr("x", lx).attr("y", ly).attr("font-size", 15).attr("font-weight", "bold").attr("fill", "#111").text(l as string));
  }, []);

  return (
    <svg
      ref={ref}
      width={800}
      height={908}
      style={{ position: "absolute", left: 0, top: 0, display: "block", fontFamily: FONT }}
    />
  );
}
